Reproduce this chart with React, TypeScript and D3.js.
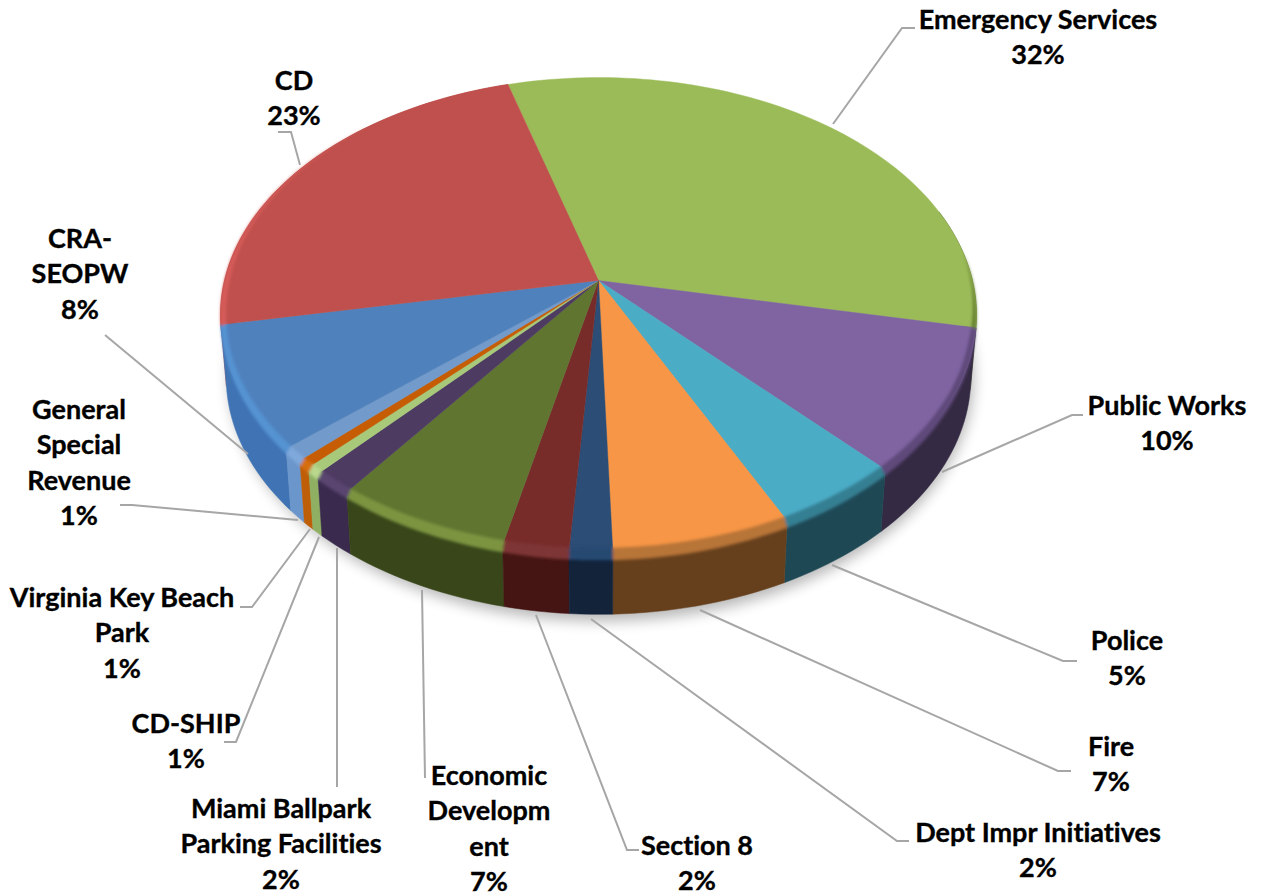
import React from "react";
import * as d3 from "d3";

// ---------- data ----------
const categories = [
  "Emergency Services", "Public Works", "Police", "Fire", "Dept Impr Initiatives", "Section 8",
  "Economic Development", "Miami Ballpark Parking Facilities", "CD-SHIP", "Virginia Key Beach Park",
  "General Special Revenue", "CRA-SEOPW", "CD",
];
const shares = [32.6, 9.8, 4.8, 6.7, 1.6, 2.45, 6.6, 1.55, 0.53, 0.53, 0.9, 8.4, 23.5];

const labelLines = [
  ["Emergency Services", "32%"], ["Public Works", "10%"], ["Police", "5%"], ["Fire", "7%"],
  ["Dept Impr Initiatives", "2%"], ["Section 8", "2%"], ["Economic", "Developm", "ent", "7%"],
  ["Miami Ballpark", "Parking Facilities", "2%"], ["CD-SHIP", "1%"], ["Virginia Key Beach", "Park", "1%"],
  ["General", "Special", "Revenue", "1%"], ["CRA-", "SEOPW", "8%"], ["CD", "23%"],
];

// ---------- style ----------
const topColors = ["#9BBB59", "#8064A2", "#4BACC6", "#F79646", "#2C4D75", "#772C2A", "#5F7530", "#4D3B62", "#A9C97A", "#C65D05", "#729ACA", "#4F81BD", "#C0504D"];
const sideColors = ["#4E6028", "#352A44", "#1F4855", "#66401D", "#12233A", "#451513", "#384619", "#3A2A4E", "#8FB062", "#BF5E08", "#6A96CC", "#3F73B4", "#B04542"];
const bevelColors = ["#66802F", "#5E4A7A", "#357F93", "#B87438", "#274A72", "#7E3436", "#7C9440", "#5A456F", "#B9D88E", "#D66E10", "#7FA9DC", "#5593D2", "#D65C59"];

// label layout: centre x, first baseline
const labelX = [1038, 1167, 1127, 1111, 1038, 697, 489, 281, 186, 122, 79, 80, 294];
const labelY = [29, 415, 650, 756, 842, 855, 785, 818, 733, 607, 419, 248, 90];
const leaders: [number, number][][] = [
  [[833, 124], [902, 28], [915, 28]],
  [[942, 472], [1072, 415], [1083, 415]],
  [[832, 565], [1063, 661], [1077, 661]],
  [[700, 610], [1058, 771], [1071, 771]],
  [[591, 619], [897, 841], [909, 841]],
  [[536, 615], [627, 850], [639, 850]],
  [[422, 590], [425, 778]],
  [[337, 548], [337, 787]],
  [[319, 537], [236, 742], [224, 742]],
  [[310, 529], [252, 607], [240, 607]],
  [[298, 520], [132, 505], [120, 505]],
  [[248, 454], [105, 335]],
  [[300, 165], [291, 132], [278, 132]],
];

// ---------- geometry ----------
const CX = 598.5, CY = 280.5, R = 374, RY = 232.4, K = 0.145, DEPTH = 62, SHRINK = 0.985;
const START = (-16 * Math.PI) / 180;
const SIDE_FROM = (72 * Math.PI) / 180;

const project = (a: number, r = 1): [number, number] => {
  const u = r * Math.sin(a), v = -r * Math.cos(a), w = 1 - K * v;
  return [CX + (R * u) / w, CY + (RY * v) / w];
};
const lower = (p: [number, number]): [number, number] => [CX + (p[0] - CX) * SHRINK, p[1] + DEPTH];
const arcAngles = (a0: number, a1: number) => {
  const n = Math.max(2, Math.ceil(((a1 - a0) * 180) / Math.PI / 1.5));
  return d3.range(n + 1).map((i) => a0 + ((a1 - a0) * i) / n);
};
const bevelWeight = (a: number) => {
  const deg = (((a * 180) / Math.PI) % 360 + 360) % 360;
  if (deg < 82) return 0;
  if (deg < 105) return (deg - 82) / 23;
  if (deg < 270) return 1;
  if (deg < 320) return (320 - deg) / 50;
  return 0;
};

const pie = d3.pie<number>().sort(null).startAngle(START).endAngle(START + 2 * Math.PI);
const arcs = pie(shares);
const line = d3.line<[number, number]>();
const closed = (pts: [number, number][]) => line(pts) + "Z";
// back-most walls are painted first
const wallOrder = d3.range(arcs.length).sort((p, q) =>
  d3.descending(Math.cos((arcs[p].startAngle + arcs[p].endAngle) / 2), Math.cos((arcs[q].startAngle + arcs[q].endAngle) / 2)));

export default function App() {
  return (
    <svg width={1261} height={896} viewBox="0 0 1261 896"
      style={{ position: "absolute", left: 0, top: 0, display: "block", background: "#fff" }}>
      <defs>
        <filter id="shadow" x="-10%" y="-10%" width="120%" height="120%"><feGaussianBlur stdDeviation="7" /></filter>
        <filter id="bevel" x="-5%" y="-5%" width="110%" height="110%"><feGaussianBlur stdDeviation="1.6" /></filter>
      </defs>

      {/* soft shadow */}
      <path filter="url(#shadow)" fill="#000" opacity={0.28}
        d={closed(arcAngles(0, 2 * Math.PI).map((a) => {
          const p = lower(project(a));
          return [p[0] + 3, p[1] - 2 + 9 * Math.max(0, -Math.cos(a))] as [number, number];
        }))} />

      {/* side walls */}
      {wallOrder.map((i) => {
        const d = arcs[i];
        const from = Math.max(d.startAngle, SIDE_FROM);
        if (from >= d.endAngle) return null;
        const angles = arcAngles(from, d.endAngle);
        const upper = angles.map((a) => project(a));
        const low = angles.map((a) => lower(project(a))).reverse();
        return <path key={categories[i]} d={closed([...upper, ...low])} fill={sideColors[i]} stroke={sideColors[i]} strokeWidth={0.5} />;
      })}

      {/* top surface */}
      {arcs.map((d, i) => {
        const upper = arcAngles(d.startAngle, d.endAngle).map((a) => project(a));
        return <path key={categories[i]} d={closed([project(0, 0), ...upper])} fill={topColors[i]} stroke={topColors[i]} strokeWidth={0.4} />;
      })}

      {/* rim bevel */}
      <g filter="url(#bevel)">
        {arcs.map((d, i) => {
          const angles = arcAngles(d.startAngle, d.endAngle);
          const outer = angles.map((a) => {
            const p = project(a), w = bevelWeight(a);
            const down = Math.max(0, -Math.cos(a)) * 8 * w;
            return [p[0], p[1] + down] as [number, number];
          });
          const inner = angles.map((a) => project(a, 1 - 0.014 * bevelWeight(a))).reverse();
          return <path key={categories[i]} d={closed([...outer, ...inner])} fill={bevelColors[i]} />;
        })}
      </g>

      {/* leader lines */}
      {leaders.map((pts, i) => (
        <path key={i} d={line(pts) as string} fill="none" stroke="#A6A6A6" strokeWidth={2} />
      ))}

      {/* labels */}
      {labelLines.map((lines, i) => (
        <text key={i} x={labelX[i]} y={labelY[i]} textAnchor="middle"
          fontFamily="Lato, 'Open Sans', sans-serif" fontWeight={700} fontSize={27} fill="#000"
          stroke="#000" strokeWidth={0.35} style={{ fontVariantLigatures: "none" }}>
          {lines.map((t, j) => (
            <tspan key={j} x={labelX[i]} y={labelY[i] + j * 35.3}>{t}</tspan>
          ))}
        </text>
      ))}
    </svg>
  );
}
